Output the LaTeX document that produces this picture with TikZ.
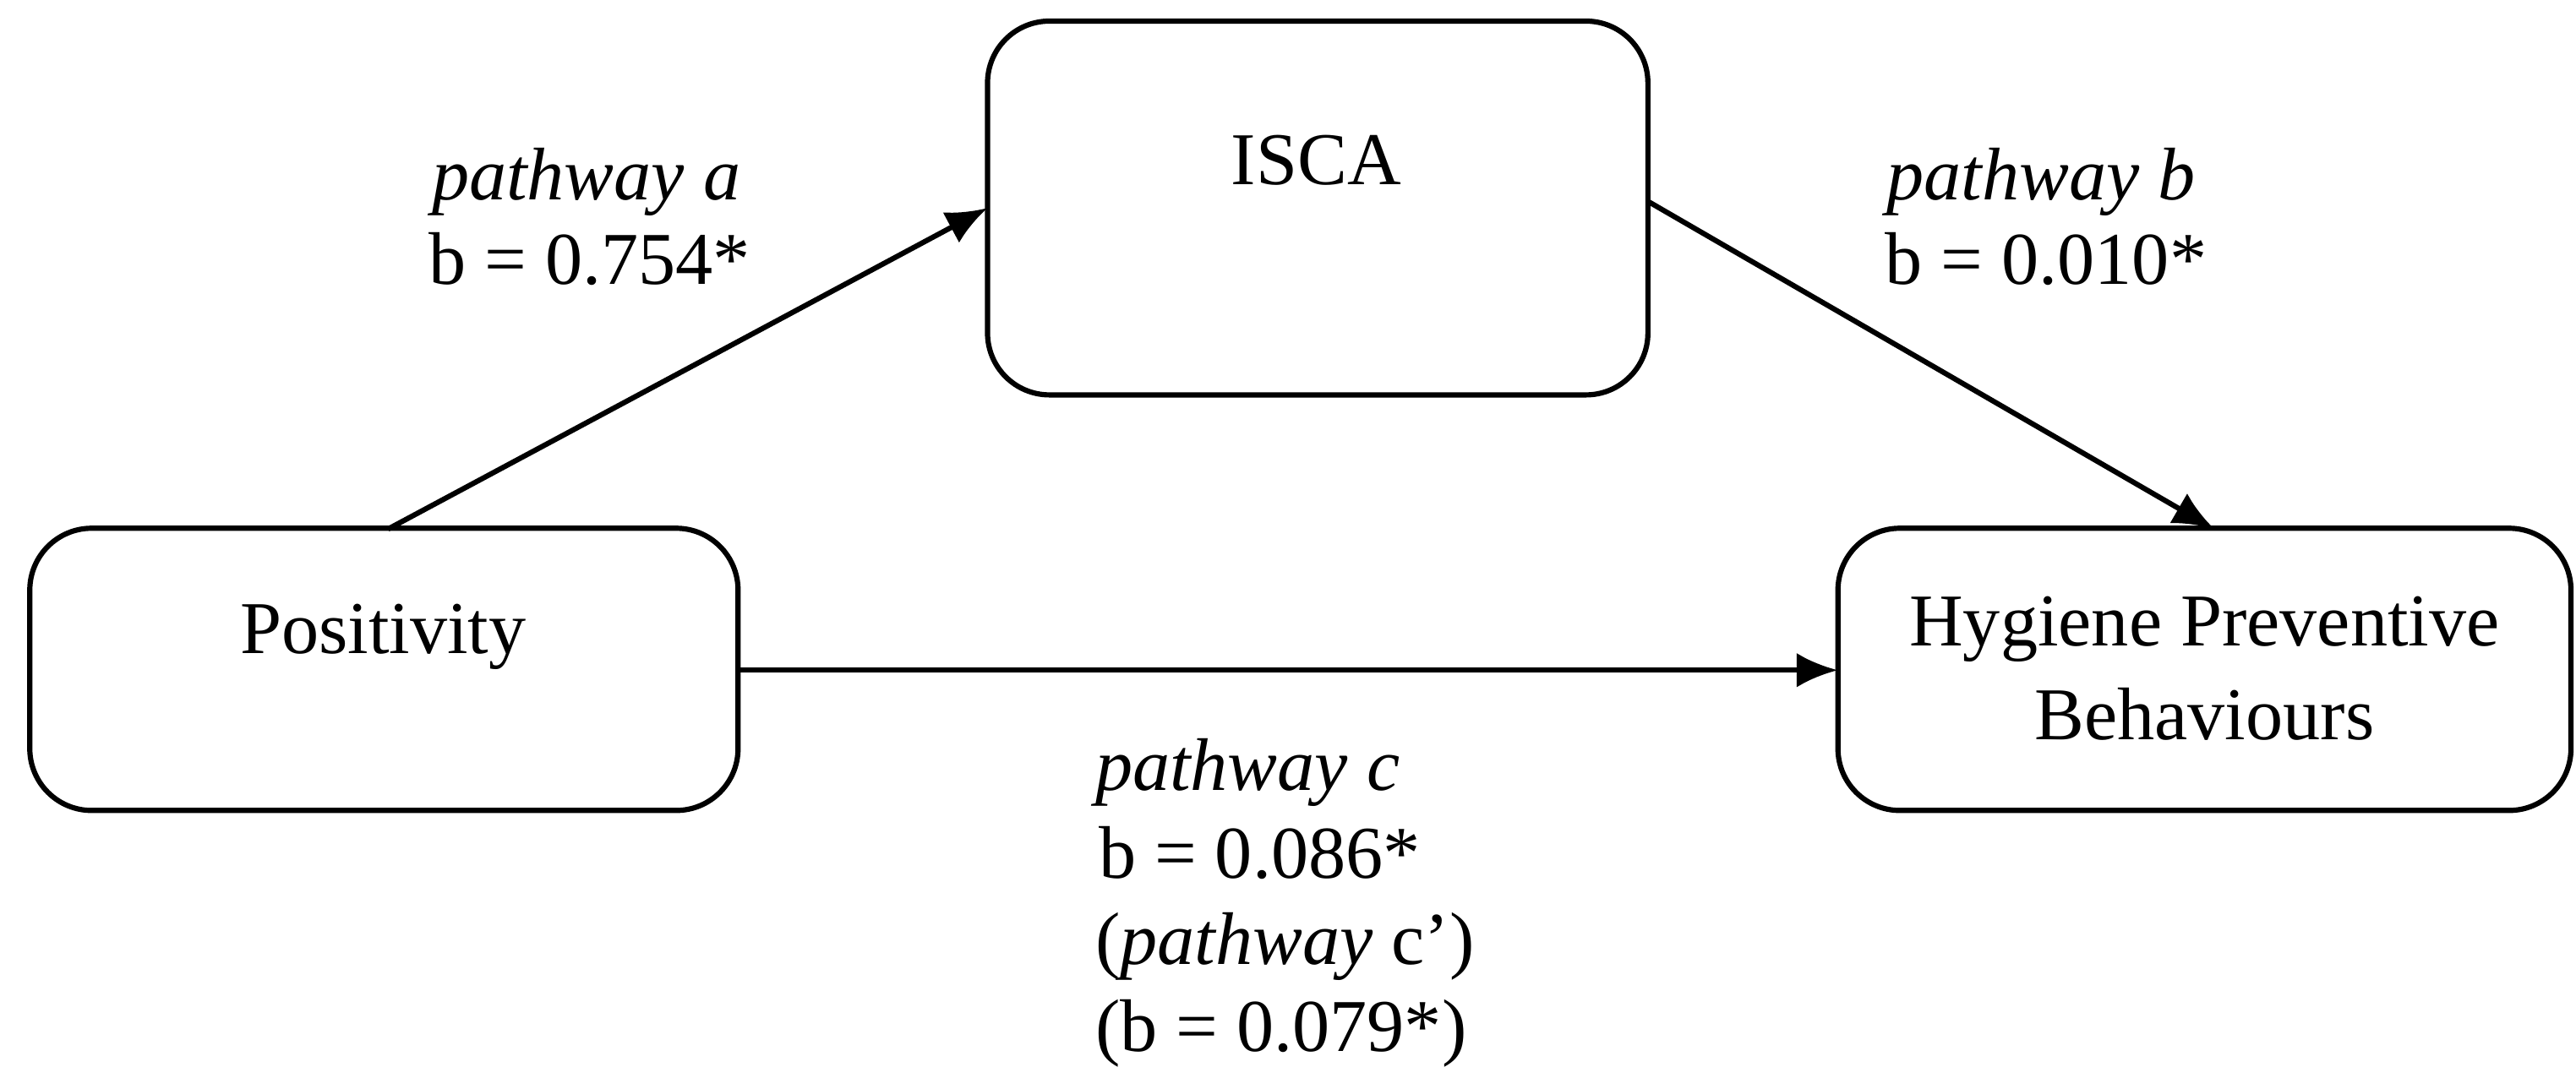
\documentclass[tikz,border=0pt]{standalone}
\usepackage{fontspec}
\setmainfont{Liberation Serif}
\usetikzlibrary{arrows.meta}
\begin{document}
\begin{tikzpicture}[x=0.02cm,y=-0.02cm,
  box/.style={draw,line width=1.8pt,rounded corners=0.75cm,inner sep=0pt},
  lab/.style={font=\fontsize{25.7}{30}\selectfont,inner sep=0pt,anchor=base},
  arr/.style={line width=1.8pt,-{Latex[length=0.5cm,width=0.42cm]}}]
\useasboundingbox (0,0) rectangle (1560,653);
\node[box,minimum width=8.0cm,minimum height=4.53cm] (isca) at (798,126) {};
\node[box,minimum width=8.58cm,minimum height=3.42cm] (pos) at (232.5,405.5) {};
\node[box,minimum width=8.88cm,minimum height=3.42cm] (hyg) at (1335,405.5) {};
\node[lab] (tisca) at (797,112) {ISCA};
\node[lab] (tpos) at (232,396) {Positivity};
\node[lab] (thyg1) at (1335,391.5) {Hygiene Preventive};
\node[lab] (thyg2) at (1335,448) {Behaviours};
\coordinate (pa) at (235,320.5);
\coordinate (ia) at (598,126);
\coordinate (ib) at (998,122);
\coordinate (hb) at (1341,320.5);
\coordinate (pc) at (447,406);
\coordinate (hc) at (1113,406);
\draw[arr] (pa) -- (ia);
\draw[arr] (ib) -- (hb);
\draw[arr] (pc) -- (hc);
\node[lab] (la1) at (355,121) {\textit{pathway a}};
\node[lab] (la2) at (357,172) {b = 0.754*};
\node[lab] (lb1) at (1236,121) {\textit{pathway b}};
\node[lab] (lb2) at (1239,172) {b = 0.010*};
\node[lab,anchor=base west] (lc1) at (663,479) {\textit{pathway c}};
\node[lab,anchor=base west] (lc2) at (665,532) {b = 0.086*};
\node[lab,anchor=base west] (lc3) at (663,584) {(\textit{pathway} c’)};
\node[lab,anchor=base west] (lc4) at (663,637) {(b = 0.079*)};
\end{tikzpicture}
\end{document}
